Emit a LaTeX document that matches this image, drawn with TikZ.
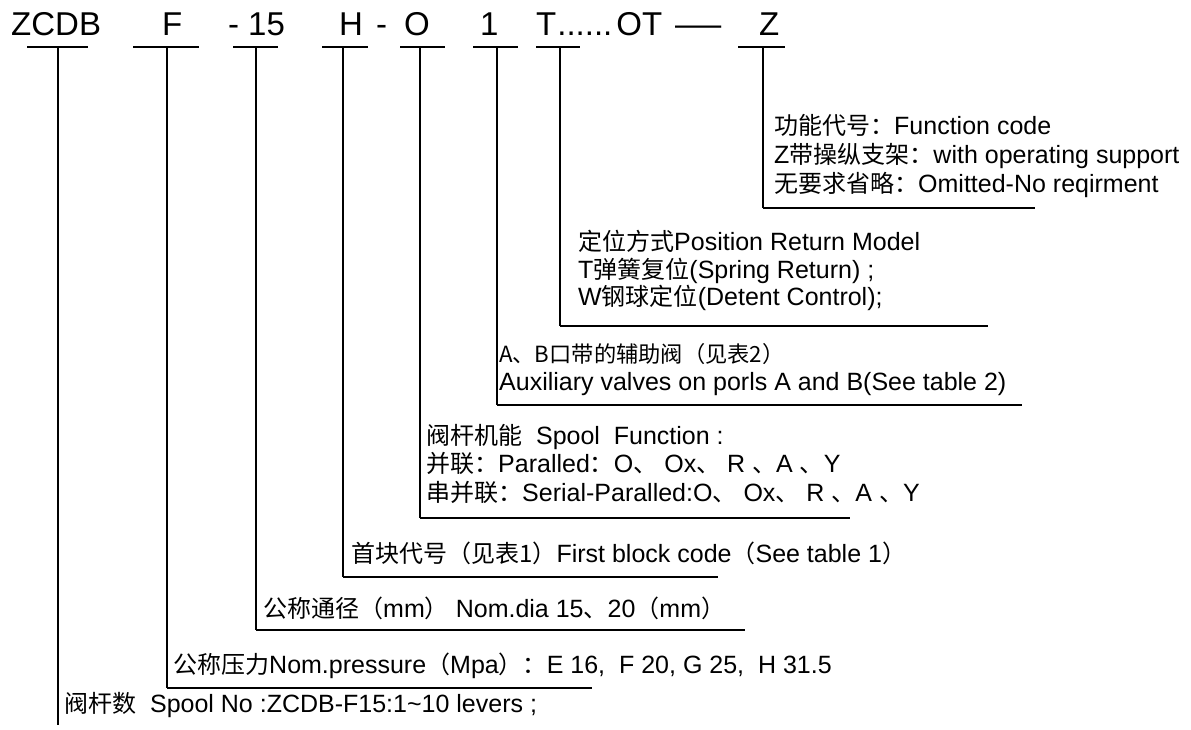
\documentclass[tikz,border=0pt]{standalone}
\usepackage{fontspec}
\setmainfont{Liberation Sans}
\newfontfamily\cjk{Noto Sans CJK SC}[Scale=0.96]
\newfontfamily\cjkmono{Noto Sans CJK SC}[Scale=0.89]
\tikzset{
  code/.style={anchor=base west,inner sep=0pt,font=\fontsize{33}{36}\selectfont},
  lbl/.style={anchor=base west,inner sep=0pt,font=\fontsize{25}{28}\selectfont},
  uline/.style={line width=2pt},
  lead/.style={line width=2.2pt},
  hline/.style={line width=2.8pt}
}
\begin{document}
\begin{tikzpicture}[x=1pt,y=-1pt]
\useasboundingbox[fill=white] (0,0) rectangle (1191,730);
% top code row
\node[code] (cZCDB) at (11,36) {ZCDB};
\node[code] (cF) at (162,36) {F};
\node[code] (cD1) at (228,36) {-};
\node[code] (c15) at (248,36) {15};
\node[code] (cH) at (339,36) {H};
\node[code] (cD2) at (376,36) {-};
\node[code] (cO) at (404,36) {O};
\node[code] (c1) at (480,36) {1};
\node[code] (cT) at (536,36) {T\kern1pt......\kern4pt OT};
\node[code] (cDash) at (675,36) {\scalebox{1.4}[1]{—}};
\node[code] (cZ) at (759,36) {Z};
% underline ends and lead corners
\foreach \n/\a/\b/\v/\y/\e in {ZCDB/27/88/58/725/58, F/133/199/167/688/592, 15/233/278/256/630/745, H/322/368/343/577/718, O/400/445/420/518/850, 1/473/518/497/405/1022, T/536/580/560/326/988, Z/738/785/763/208/1035}{
  \coordinate (ua\n) at (\a,47.5);
  \coordinate (ub\n) at (\b,47.5);
  \coordinate (t\n) at (\v,47.5);
  \coordinate (k\n) at (\v,\y);
  \coordinate (e\n) at (\e,\y);
}
\foreach \n in {ZCDB,F,15,H,O,1,T,Z}{
  \draw[uline] (ua\n) -- (ub\n);
  \draw[lead] (t\n) -- (k\n);
}
\foreach \n in {F,15,H,O,1,T,Z}{
  \draw[hline] (k\n) -- (e\n);
}
% labels
\node[lbl] (z1) at (774,135) {{\cjk 功能代号：}Function code};
\node[lbl] (z2) at (774,164) {Z{\cjk 带操纵支架：}with operating support};
\node[lbl] (z3) at (774,193) {{\cjk 无要求省略：}Omitted-No reqirment};
\node[lbl] (t1) at (578,251) {{\cjk 定位方式}Position Return Model};
\node[lbl] (t2) at (578,278) {T{\cjk 弹簧复位}(Spring Return) ;};
\node[lbl] (t3) at (578,305) {W{\cjk 钢球定位}(Detent Control);};
\node[lbl] (a1) at (499,362) {\cjkmono A、B口带的辅助阀（见表2）};
\node[lbl] (a2) at (499,390) {Auxiliary valves on porls A and B(See table 2)};
\node[lbl] (o1) at (426,444) {{\cjk 阀杆机能}\ \ Spool\ \ Function :};
\node[lbl] (o2) at (426,472) {{\cjk 并联：}Paralled{\cjk ：}O{\cjk 、} Ox{\cjk 、} R {\cjk 、}A {\cjk 、}Y};
\node[lbl] (o3) at (426,501) {{\cjk 串并联：}Serial-Paralled:O{\cjk 、} Ox{\cjk 、} R {\cjk 、}A {\cjk 、}Y};
\node[lbl] (h1) at (351,562) {{\cjk 首块代号（见表1）}First block code{\cjk （}See table 1{\cjk ）}};
\node[lbl] (n1) at (263,617) {{\cjk 公称通径（}mm{\cjk ）}\ Nom.dia 15{\cjk 、}20{\cjk （}mm{\cjk ）}};
\node[lbl] (p1) at (173,673) {{\cjk 公称压力}Nom.pressure{\cjk （}Mpa{\cjk ）：}E 16,\ \ F 20, G 25,\ \ H 31.5};
\node[lbl] (s1) at (64,712) {{\cjk 阀杆数}\ \ Spool No :ZCDB-F15:1\textasciitilde 10 levers ;};
\end{tikzpicture}
\end{document}
